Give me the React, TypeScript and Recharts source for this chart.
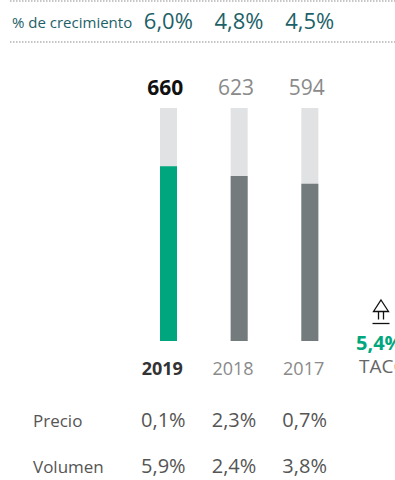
import React from 'react';
import { BarChart, Bar, XAxis, YAxis, Cell } from 'recharts';

// Sales by year (millions) and breakdown of growth
const years = ['2019', '2018', '2017'];
const totals = [660, 623, 594];
const growth = ['6,0%', '4,8%', '4,5%'];
const precio = ['0,1%', '2,3%', '0,7%'];
const volumen = ['5,9%', '2,4%', '3,8%'];
const cagr = '5,4%';
const scaleMax = 880;

const data = years.map((year, i) => ({ year, total: totals[i] }));

const FONT = '"Open Sans", "Noto Sans", sans-serif';
const TEAL = '#1d6168';
const GREEN = '#00a77e';
const GREY_BAR = '#747b7c';
const TRACK = '#e1e2e3';

const W = 395;
const H = 480;
const AXIS_Y = 341;

// Draws every per-year text column (total, growth, year, price, volume)
const YearColumn = (props: any) => {
  const { x, payload } = props;
  const i = years.indexOf(payload.value);
  const current = i === 0;
  return (
    <g fontFamily={FONT}>
      <text x={x} y={29} textAnchor="middle" fontSize={22} fill={TEAL}>
        {growth[i]}
      </text>
      <text
        x={x - 3}
        y={95}
        textAnchor="middle"
        fontSize={21}
        fontWeight={current ? 700 : 400}
        fill={current ? '#111' : '#8a8a8a'}
      >
        {totals[i]}
      </text>
      <text
        x={x - 6}
        y={375}
        textAnchor="middle"
        fontSize={18}
        fontWeight={current ? 700 : 400}
        fill={current ? '#333' : '#8a8a8a'}
      >
        {payload.value}
      </text>
      <text x={x - 5} y={427} textAnchor="middle" fontSize={20} fill="#555">
        {precio[i]}
      </text>
      <text x={x - 5} y={473} textAnchor="middle" fontSize={20} fill="#555">
        {volumen[i]}
      </text>
    </g>
  );
};

export default function App() {
  return (
    <div style={{ position: 'absolute', left: 0, top: 0, width: W, height: H, background: '#fff' }}>
      <BarChart
        width={W}
        height={H}
        data={data}
        margin={{ top: 108, right: 50, bottom: H - AXIS_Y - 30, left: 133 }}
        style={{ position: 'absolute', left: 0, top: 0 }}
      >
        <YAxis hide domain={[0, scaleMax]} />
        <XAxis
          dataKey="year"
          height={30}
          axisLine={false}
          tickLine={false}
          tickSize={0}
          tickMargin={0}
          interval={0}
          tick={<YearColumn />}
        />
        <Bar dataKey="total" barSize={17} background={{ fill: TRACK }} isAnimationActive={false}>
          {data.map((d, i) => (
            <Cell key={d.year} fill={i === 0 ? GREEN : GREY_BAR} />
          ))}
        </Bar>
      </BarChart>
      <svg
        width={W}
        height={H}
        style={{ position: 'absolute', left: 0, top: 0, pointerEvents: 'none' }}
        fontFamily={FONT}
      >
        <line x1={10} y1={1} x2={W} y2={1} stroke="#8c8c8c" strokeWidth={1} strokeDasharray="1.5 1.5" />
        <line x1={10} y1={42} x2={W} y2={42} stroke="#8c8c8c" strokeWidth={1} strokeDasharray="1.5 1.5" />
        <text x={12} y={28} fontSize={15} fill={TEAL}>% de crecimiento</text>
        <text x={33} y={427} fontSize={17} fill="#555">Precio</text>
        <text x={33} y={473} fontSize={17} fill="#555">Volumen</text>
        {/* compound annual growth marker */}
        <g fill="none" stroke="#111" strokeWidth={1.3}>
          <path d="M381 300 L388.5 311.5 L373.5 311.5 Z" />
          <line x1={378.5} y1={311.5} x2={378.5} y2={319.5} />
          <line x1={383.5} y1={311.5} x2={383.5} y2={319.5} />
          <line x1={372.5} y1={323.5} x2={389.5} y2={323.5} />
        </g>
        <text x={356} y={350} fontSize={20} fontWeight={700} fill={GREEN}>{cagr}</text>
        <text x={359} y={373} fontSize={19} fill="#666">TACC</text>
      </svg>
    </div>
  );
}
